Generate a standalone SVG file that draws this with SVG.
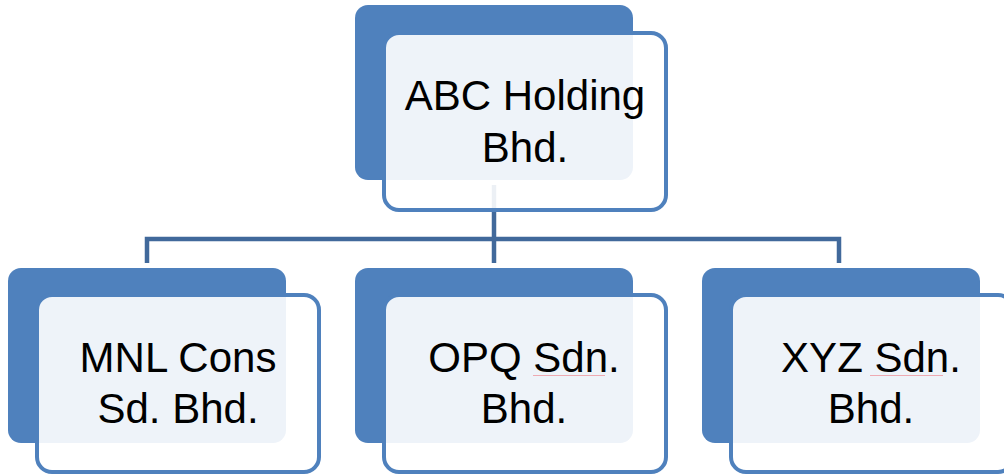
<svg xmlns="http://www.w3.org/2000/svg" width="1004" height="474" viewBox="0 0 1004 474">
<style>
.back{fill:#4f81bd}
.front{fill:#ffffff;fill-opacity:0.9;stroke:#4f81bd;stroke-width:4}
.conn{fill:none;stroke:#41699b;stroke-width:4.5}
.lbl{font-family:"Liberation Sans",Arial,sans-serif;font-size:42px;fill:#000;text-anchor:middle}
.spell{stroke:#eeaab2;stroke-width:1}
</style>
<rect width="1004" height="474" fill="#ffffff"/>
<g id="connectors">
<path class="conn" d="M494,185 V263"/>
<path class="conn" d="M147,263 V239 H839 V263"/>
</g>
<g id="node-abc">
<rect class="back" x="355" y="5" width="278" height="175" rx="13"/>
<rect class="front" x="384" y="33" width="282" height="177" rx="15"/>
<text class="lbl" x="525" y="110">ABC Holding</text>
<text class="lbl" x="525" y="162">Bhd.</text>
</g>
<g id="node-mnl">
<rect class="back" x="8" y="268" width="278" height="175" rx="13"/>
<rect class="front" x="37" y="295" width="282" height="177" rx="15"/>
<text class="lbl" x="178" y="372">MNL Cons</text>
<text class="lbl" x="178" y="423">Sd. Bhd.</text>
</g>
<g id="node-opq">
<rect class="back" x="355" y="268" width="278" height="175" rx="13"/>
<rect class="front" x="384" y="295" width="282" height="177" rx="15"/>
<text class="lbl" x="524" y="372">OPQ Sdn.</text>
<text class="lbl" x="524" y="423">Bhd.</text>
<line class="spell" x1="533" y1="375.5" x2="605" y2="375.5"/>
</g>
<g id="node-xyz">
<rect class="back" x="702" y="268" width="278" height="175" rx="13"/>
<rect class="front" x="731" y="295" width="282" height="177" rx="15"/>
<text class="lbl" x="871" y="372">XYZ Sdn.</text>
<text class="lbl" x="871" y="423">Bhd.</text>
<line class="spell" x1="870" y1="375.5" x2="943" y2="375.5"/>
</g>
</svg>
